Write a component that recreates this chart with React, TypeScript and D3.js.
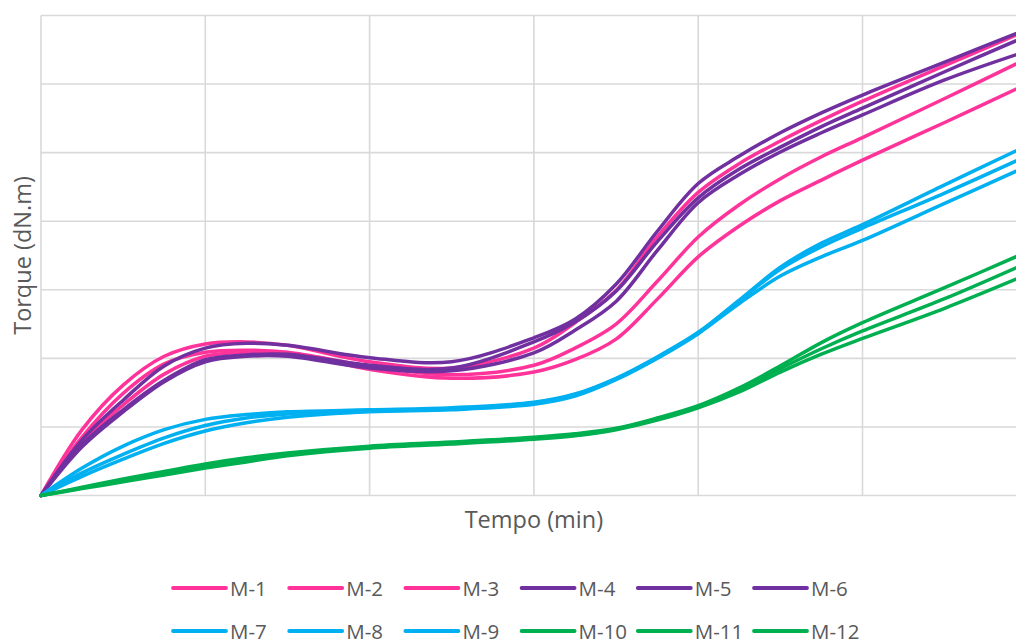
import React from "react";
import * as d3 from "d3";

// Time axis (minutes, grid units)
const tempo: number[] = [0, 0.25, 0.5, 0.75, 1, 1.25, 1.5, 2, 2.5, 3, 3.25, 3.5, 3.75, 4, 4.25, 4.5, 4.75, 5, 5.5, 6];

const seriesNames: string[] = ["M-1", "M-2", "M-3", "M-4", "M-5", "M-6", "M-7", "M-8", "M-9", "M-10", "M-11", "M-12"];
const seriesColors: string[] = [
  "#FF3399", "#FF3399", "#FF3399",
  "#7030A0", "#7030A0", "#7030A0",
  "#00B0F0", "#00B0F0", "#00B0F0",
  "#00B050", "#00B050", "#00B050",
];

const m1: number[] = [0, 0.96, 1.61, 2.03, 2.21, 2.24, 2.19, 1.95, 1.86, 2.15, 2.52, 2.99, 3.77, 4.42, 4.84, 5.17, 5.47, 5.75, 6.27, 6.78];
const m2: number[] = [0, 0.85, 1.49, 1.92, 2.09, 2.12, 2.09, 1.89, 1.76, 1.90, 2.15, 2.50, 3.12, 3.77, 4.24, 4.62, 4.94, 5.22, 5.79, 6.37];
const m3: number[] = [0, 0.78, 1.32, 1.77, 2.03, 2.09, 2.08, 1.84, 1.71, 1.80, 1.98, 2.28, 2.86, 3.48, 3.93, 4.30, 4.60, 4.89, 5.44, 6.00];
const m4: number[] = [0, 0.81, 1.39, 1.89, 2.15, 2.22, 2.19, 2.01, 1.95, 2.30, 2.57, 3.08, 3.85, 4.55, 4.95, 5.29, 5.58, 5.84, 6.32, 6.80];
const m5: number[] = [0, 0.74, 1.25, 1.68, 1.98, 2.05, 2.06, 1.90, 1.86, 2.24, 2.53, 2.98, 3.70, 4.34, 4.76, 5.08, 5.38, 5.65, 6.18, 6.70];
const m6: number[] = [0, 0.71, 1.22, 1.66, 1.95, 2.03, 2.03, 1.86, 1.82, 2.08, 2.41, 2.83, 3.57, 4.27, 4.68, 5.01, 5.29, 5.55, 6.06, 6.48];
const m7: number[] = [0, 0.40, 0.72, 0.96, 1.11, 1.18, 1.22, 1.25, 1.28, 1.36, 1.48, 1.71, 2.02, 2.38, 2.85, 3.33, 3.68, 3.95, 4.53, 5.10];
const m8: number[] = [0, 0.33, 0.60, 0.84, 1.02, 1.13, 1.19, 1.23, 1.26, 1.35, 1.47, 1.70, 2.01, 2.37, 2.84, 3.30, 3.63, 3.90, 4.41, 4.95];
const m9: number[] = [0, 0.28, 0.53, 0.76, 0.94, 1.06, 1.14, 1.22, 1.25, 1.33, 1.45, 1.69, 2.00, 2.36, 2.80, 3.20, 3.48, 3.72, 4.26, 4.80];
const m10: number[] = [0, 0.12, 0.24, 0.35, 0.46, 0.55, 0.62, 0.72, 0.78, 0.85, 0.90, 0.98, 1.13, 1.31, 1.57, 1.89, 2.23, 2.52, 3.03, 3.55];
const m11: number[] = [0, 0.11, 0.22, 0.33, 0.43, 0.52, 0.60, 0.71, 0.77, 0.84, 0.88, 0.97, 1.12, 1.29, 1.54, 1.85, 2.14, 2.40, 2.87, 3.39];
const m12: number[] = [0, 0.10, 0.20, 0.30, 0.40, 0.49, 0.58, 0.69, 0.75, 0.82, 0.87, 0.96, 1.10, 1.28, 1.51, 1.80, 2.06, 2.29, 2.73, 3.22];

const seriesValues: number[][] = [m1, m2, m3, m4, m5, m6, m7, m8, m9, m10, m11, m12];

const xTicks: number[] = [0, 1, 2, 3, 4, 5, 6];
const yTicks: number[] = [0, 1, 2, 3, 4, 5, 6, 7];

const W = 1016;
const H = 642;
const FONT = "'Open Sans', sans-serif";
const TEXT = "#595959";
const GRID = "#d9d9d9";

export default function App() {
  const x = d3.scaleLinear().domain([0, 6]).range([41, 1026.8]);
  const y = d3.scaleLinear().domain([0, 7]).range([495.5, 15.5]);

  const line = d3
    .line<[number, number]>()
    .x((d) => x(d[0]))
    .y((d) => y(d[1]))
    .curve(d3.curveCatmullRom.alpha(0.5));

  return (
    <svg
      width={W}
      height={H}
      style={{ position: "absolute", left: 0, top: 0, background: "#fff" }}
    >
      <g>
        {yTicks.map((t) => (
          <line key={"gy" + t} x1={x(0)} x2={x(6)} y1={y(t)} y2={y(t)} stroke={GRID} strokeWidth={1.6} />
        ))}
        {xTicks.map((t) => (
          <line key={"gx" + t} x1={x(t)} x2={x(t)} y1={y(0)} y2={y(7)} stroke={GRID} strokeWidth={1.6} />
        ))}
      </g>
      <g>
        {seriesValues.map((vals, i) => (
          <path
            key={seriesNames[i]}
            d={line(tempo.map((t, j) => [t, vals[j]] as [number, number])) || ""}
            fill="none"
            stroke={seriesColors[i]}
            strokeWidth={3.5}
            strokeLinejoin="round"
            strokeLinecap="round"
          />
        ))}
      </g>
      <text
        x={(x(0) + x(6)) / 2}
        y={519}
        textAnchor="middle"
        dominantBaseline="central"
        fontFamily={FONT}
        fontSize={23.5}
        fill={TEXT}
      >
        Tempo (min)
      </text>
      <text
        transform={`translate(22, ${(y(0) + y(7)) / 2}) rotate(-90)`}
        textAnchor="middle"
        dominantBaseline="central"
        fontFamily={FONT}
        fontSize={23.5}
        fill={TEXT}
      >
        Torque (dN.m)
      </text>
      <g>
        {seriesNames.map((name, i) => {
          const col = i % 6;
          const row = Math.floor(i / 6);
          const x0 = 173 + col * 116.2;
          const yy = 588 + row * 43;
          return (
            <g key={"lg" + name}>
              <line x1={x0} x2={x0 + 53} y1={yy} y2={yy} stroke={seriesColors[i]} strokeWidth={3.8} strokeLinecap="round" />
              <text
                x={x0 + 57}
                y={yy}
                dominantBaseline="central"
                fontFamily={FONT}
                fontSize={20.5}
                fill={TEXT}
              >
                {name}
              </text>
            </g>
          );
        })}
      </g>
    </svg>
  );
}
